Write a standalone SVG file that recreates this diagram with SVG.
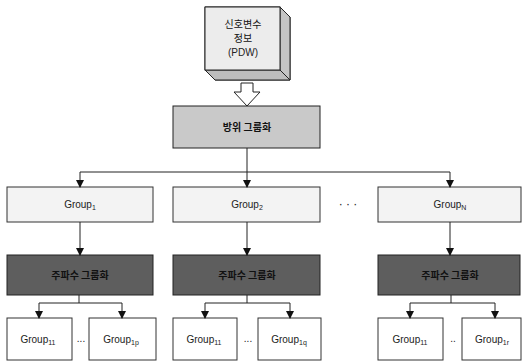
<svg xmlns="http://www.w3.org/2000/svg" width="523" height="364" viewBox="0 0 523 364">
<defs>
<marker id="ah" viewBox="0 0 8 8" refX="7" refY="4" markerWidth="8" markerHeight="8" markerUnits="userSpaceOnUse" orient="auto">
<path d="M0,0 L8,4 L0,8 Z" fill="#111"/>
</marker>
</defs>
<style>
.t{font-family:"Liberation Sans","Noto Sans CJK KR",sans-serif;font-size:10px;fill:#222;text-anchor:middle}
.k{font-family:"Noto Sans CJK KR",sans-serif;font-size:10px;fill:#111;text-anchor:middle;font-weight:bold}
.s{font-size:7px}
.line{stroke:#222;stroke-width:1;fill:none}
.light{fill:#f3f3f3;stroke:#333;stroke-width:1}
.dark{fill:#5e5e5e;stroke:#222;stroke-width:1}
.white{fill:#fff;stroke:#333;stroke-width:1}
</style>
<rect width="523" height="364" fill="#fff"/>
<g id="pdw">
<polygon points="205,7 280,7 290,17 290,80 215,80 205,70" fill="#e4e4e4" stroke="#222"/>
<polygon points="280,7 290,17 290,80 280,70" fill="#c4c4c4" stroke="#222"/>
<polygon points="205,70 280,70 290,80 215,80" fill="#bdbdbd" stroke="#222"/>
<rect x="205" y="7" width="75" height="63" fill="#ececec" stroke="#222"/>
<text class="k" x="243" y="28" style="font-weight:normal">신호변수</text>
<text class="k" x="243" y="42" style="font-weight:normal">정보</text>
<text class="t" x="243" y="56">(PDW)</text>
</g>
<g id="bigarrow">
<polygon points="241,83 253,83 253,92 260,92 247,106 234,92 241,92" fill="#fff" stroke="#222"/>
</g>
<g id="bearing">
<rect x="173" y="106" width="147" height="42" fill="#c9c9c9" stroke="#222"/>
<text class="k" x="247" y="131">방위 그룹화</text>
</g>
<g id="g1"><rect class="light" x="7" y="187" width="146" height="35"/><text class="t" x="80" y="208">Group<tspan class="s" dy="2">1</tspan></text></g>
<g id="g2"><rect class="light" x="173" y="187" width="147" height="35"/><text class="t" x="247" y="208">Group<tspan class="s" dy="2">2</tspan></text></g>
<g id="gN"><rect class="light" x="378" y="187" width="143" height="35"/><text class="t" x="450" y="208">Group<tspan class="s" dy="2">N</tspan></text></g>
<text class="t" x="348" y="208" style="font-size:12px">· · ·</text>
<g id="f1"><rect class="dark" x="7" y="255" width="146" height="40"/><text class="k" x="80" y="279">주파수 그룹화</text></g>
<g id="f2"><rect class="dark" x="173" y="255" width="147" height="40"/><text class="k" x="247" y="279">주파수 그룹화</text></g>
<g id="fN"><rect class="dark" x="378" y="255" width="142" height="40"/><text class="k" x="450" y="279">주파수 그룹화</text></g>
<g id="s11a"><rect class="white" x="7" y="318" width="65" height="42"/><text class="t" x="38" y="343">Group<tspan class="s" dy="2">11</tspan></text></g>
<g id="s1p"><rect class="white" x="89" y="318" width="67" height="42"/><text class="t" x="121" y="343">Group<tspan class="s" dy="2">1p</tspan></text></g>
<g id="s11b"><rect class="white" x="173" y="318" width="64" height="42"/><text class="t" x="204" y="343">Group<tspan class="s" dy="2">11</tspan></text></g>
<g id="s1q"><rect class="white" x="258" y="318" width="63" height="42"/><text class="t" x="289" y="343">Group<tspan class="s" dy="2">1q</tspan></text></g>
<g id="s11c"><rect class="white" x="378" y="318" width="65" height="42"/><text class="t" x="410" y="343">Group<tspan class="s" dy="2">11</tspan></text></g>
<g id="s1r"><rect class="white" x="462" y="318" width="59" height="42"/><text class="t" x="492" y="343">Group<tspan class="s" dy="2">1r</tspan></text></g>
<text class="t" x="81" y="342">...</text>
<text class="t" x="248" y="342">...</text>
<text class="t" x="453" y="342">..</text>
<g id="connectors">
<path class="line" d="M247,148 V172"/>
<path class="line" d="M80,172 H450" stroke="#777"/>
<path class="line" d="M80,172 V187" marker-end="url(#ah)"/>
<path class="line" d="M247,172 V187" marker-end="url(#ah)"/>
<path class="line" d="M450,172 V187" marker-end="url(#ah)"/>
<path class="line" d="M80,222 V255" marker-end="url(#ah)"/>
<path class="line" d="M247,222 V255" marker-end="url(#ah)"/>
<path class="line" d="M450,222 V255" marker-end="url(#ah)"/>
<path class="line" d="M79,295 V303 M39,303 H122"/>
<path class="line" d="M39,303 V318" marker-end="url(#ah)"/>
<path class="line" d="M122,303 V318" marker-end="url(#ah)"/>
<path class="line" d="M247,295 V303 M205,303 H290"/>
<path class="line" d="M205,303 V318" marker-end="url(#ah)"/>
<path class="line" d="M290,303 V318" marker-end="url(#ah)"/>
<path class="line" d="M451,295 V303 M410,303 H495"/>
<path class="line" d="M410,303 V318" marker-end="url(#ah)"/>
<path class="line" d="M495,303 V318" marker-end="url(#ah)"/>
</g>
</svg>
